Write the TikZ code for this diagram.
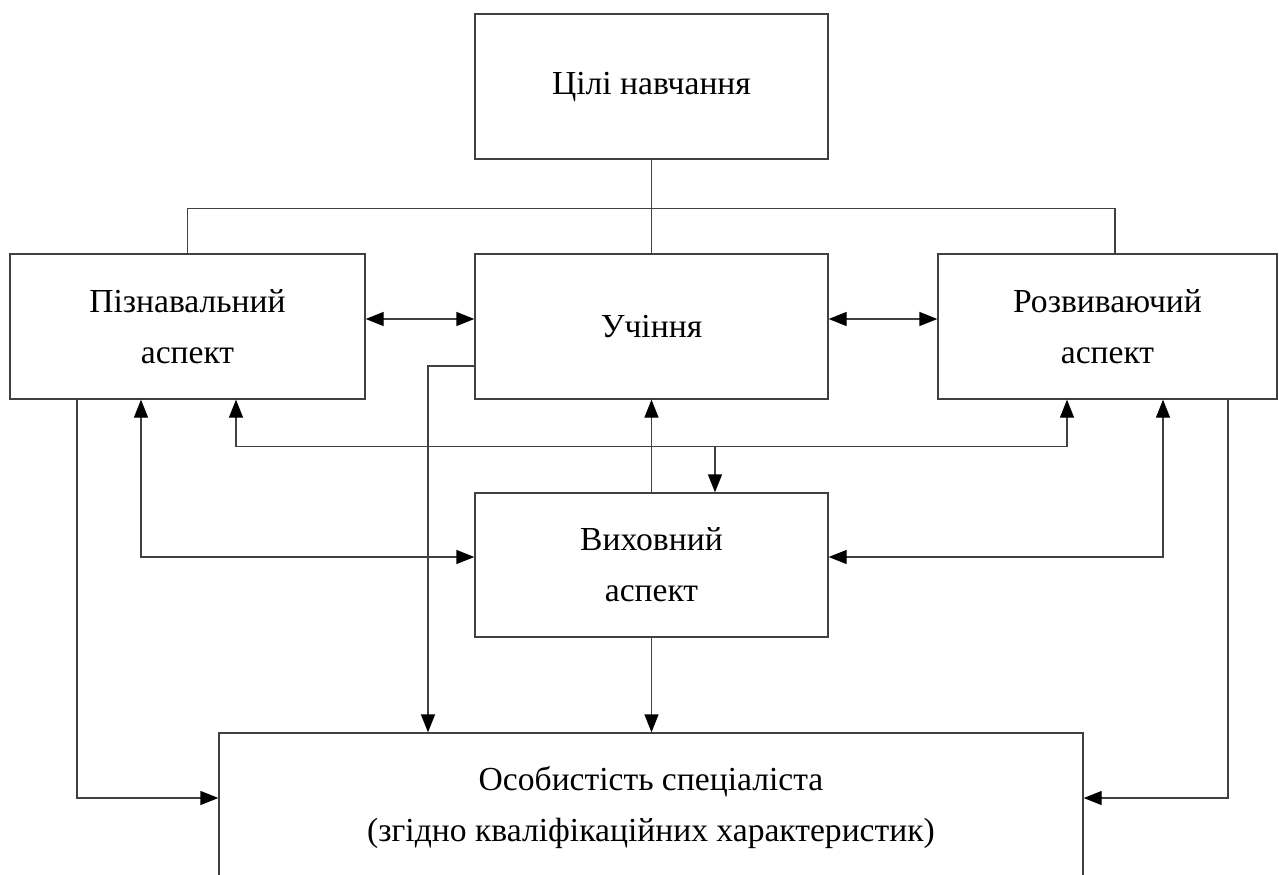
\documentclass[tikz,border=0pt]{standalone}
\usepackage{fontspec}
\setmainfont{Liberation Serif}
\usetikzlibrary{arrows.meta,positioning}
\tikzset{
  >={Triangle[length=9pt,width=7pt,color=black]},
  every picture/.append style={line width=0.65pt},
  every node/.append style={font=\fontsize{16.8}{25.5}\selectfont},
}
\tikzset{
  box/.style={draw=black!75, align=center, inner sep=0pt, minimum width=176.5pt, minimum height=72.5pt},
  link/.style={draw=black!75}
}
\begin{document}
\begin{tikzpicture}[
  x=0.5pt, y=-0.5pt,
  wide/.style ={minimum width=177.5pt},
  side/.style ={minimum width=169.5pt},
  base/.style ={minimum width=432pt, minimum height=75pt}
]
\path[use as bounding box, clip] (0,0) rectangle (1279,874);

\node[box]        (goal)  at (651.5,86.5)  {Цілі навчання};
\node[box, wide]  (cog)   at (187.5,326.5) {Пізнавальний\\аспект};
\node[box]        (learn) at (651.5,326.5) {Учіння};
\node[box, side]  (dev)   at (1107.5,326.5) {Розвиваючий\\аспект};
\node[box, minimum height=72pt] (edu) at (651.5,565) {Виховний\\аспект};
\node[box, base]  (pers)  at (651,808) {Особистість спеціаліста\\(згідно кваліфікаційних характеристик)};

\coordinate (tbar) at ([yshift=-24.5pt]goal.south);
\coordinate (hub)  at ([xshift=31.75pt,yshift=23pt]edu.north);

% tree from the goals
\draw[link] (goal.south) -- (learn.north);
\draw[link] (cog.north) |- (tbar) -| ([xshift=3.75pt]dev.north);

% middle row
\draw[link,<->] ([yshift=3.75pt]cog.east) -- ([yshift=3.75pt]learn.west);
\draw[link,<->] ([yshift=3.75pt]learn.east) -- ([yshift=3.75pt]dev.west);
\draw[link,->] ([yshift=-19.75pt]learn.west) -| ([xshift=-111.5pt]pers.north);

\draw[link,<->] ([xshift=24.25pt]cog.south) |- (hub) -| ([xshift=-20.25pt]dev.south);
\draw[link,->] (hub) -- ([xshift=31.75pt]edu.north);
\draw[link,->] (edu.north) -- (learn.south);

\draw[link,<->] ([xshift=-23.25pt]cog.south) |- ([yshift=4pt]edu.west);
\draw[link,<->] ([xshift=27.75pt]dev.south) |- ([yshift=4pt]edu.east);

% to the specialist
\draw[link,->] ([xshift=-55.25pt]cog.south) |- ([yshift=5pt]pers.west);
\draw[link,->] ([xshift=60.25pt]dev.south) |- ([yshift=5pt]pers.east);
\draw[link,->] (edu.south) -- (edu.south |- pers.north);

\end{tikzpicture}
\end{document}
